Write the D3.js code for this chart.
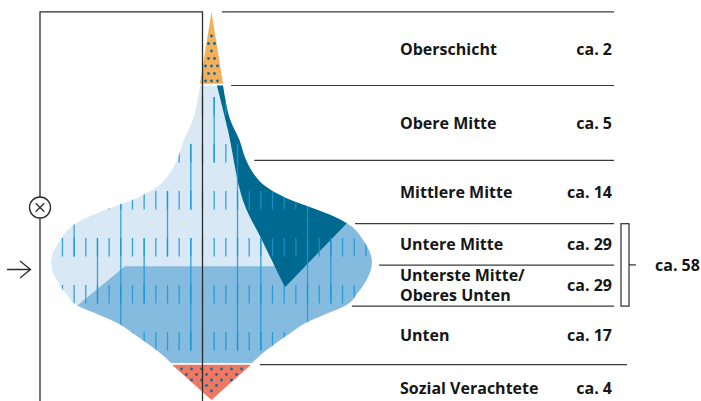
<!DOCTYPE html>
<html>
<head>
<meta charset="utf-8">
<script src="https://cdn.jsdelivr.net/npm/d3@7.9.0/dist/d3.min.js"></script>
<style>
html, body { margin: 0; padding: 0; background: #fff; }
svg { display: block; font-family: 'Open Sans', sans-serif; }
</style>
</head>
<body>
<svg id="chart" width="701" height="401"></svg>
<script>
// classes and approximate share in percent
const classes = ['Oberschicht', 'Obere Mitte', 'Mittlere Mitte', 'Untere Mitte',
  'Unterste Mitte/|Oberes Unten', 'Unten', 'Sozial Verachtete'];
const shares = [2, 5, 14, 29, 29, 17, 4];
// edges of the rows along the figure (depth 0 = neck, 100 = foot)
const bandEdges = [-26.5, 0, 27, 49.8, 64.7, 79.5, 100.6, 113.3];

// outline of the onion: relative width at each depth
const outlineDepth = [0, 5.2, 12.4, 19.6, 26.8, 31.5, 36.6, 40.5, 44.1, 47.0, 50.3, 55.7, 63.7, 70.1, 74.8, 79.1, 82.7, 85.6, 89.2, 93.5, 97.1, 100];
const outlineWidth = [7.2, 8.7, 11.7, 17.4, 21.5, 25.9, 34.3, 46.4, 62.9, 75.7, 86.0, 94.4, 100, 96.6, 91.0, 84.1, 69.8, 58.6, 49.2, 38.6, 30.5, 25.2];

// dark wedge (left edge) and the lower fill corner
const wedgeDepth = [0, 16.2, 41.4, 55.8, 72.7];
const wedgeWidth = [3.4, 10.3, 19.6, 31.5, 45.8];
const wedgeTip = [84.4, 49.6];
const lowerCorner = [[-83.2, 79.1], [-53.9, 65.1]];

// stripes: columns joined over several rows [column, first row, last row]
const longStripes = [[1, 0, 1], [-1, 1, 2], [-1, 3, 5], [3, 1, 5], [5, 3, 5], [9, 2, 5],
  [11, 3, 4], [-7, 2, 5], [-5, 3, 4], [-9, 3, 4], [-11, 2, 3], [-3, 2, 3]];

const svg = d3.select('#chart');
const cx = 211.5;
const yD = d3.scaleLinear().domain([0, 100]).range([85.5, 363]);
const xW = d3.scaleLinear().domain([0, 100]).range([0, 160.5]);
const widthAt = d3.scaleLinear().domain(outlineDepth).range(outlineWidth).clamp(true);
const xCol = d3.scaleLinear().domain([0, 1]).range([202.5, 214.17]);
const pt = (w, d) => [cx + xW(w), yD(d)];

const ink = '#2b2b2b';

// violin outline
const outline = outlineDepth.map((d, i) => ({ d, w: outlineWidth[i] }));
const area = d3.area()
  .y(p => yD(p.d))
  .x0(p => cx - xW(p.w))
  .x1(p => cx + xW(p.w))
  .curve(d3.curveMonotoneY);

svg.append('clipPath').attr('id', 'onion')
  .append('path').attr('d', area(outline));

const g = svg.append('g').attr('clip-path', 'url(#onion)');
g.append('path').attr('d', area(outline)).attr('fill', '#d8e8f5');

// lower (middle blue) part
const lowerPoly = [[-112.5, 93.1], ...lowerCorner, [58.5, 65.1], [103.7, 38.1], [130, 38.1], [130, 110], [-130, 110]];
g.append('path')
  .attr('d', d3.line()(lowerPoly.map(p => pt(p[0], p[1]))) + 'Z')
  .attr('fill', '#86bbe0');

// dark wedge
const wedgeEdge = wedgeDepth.map((d, i) => pt(wedgeWidth[i], d));
const wedgeTail = [pt(wedgeTip[0], wedgeTip[1]), pt(103.7, 38.1), pt(130, 20), pt(130, -5), pt(wedgeWidth[0], -5)];
g.append('path')
  .attr('d', d3.line().curve(d3.curveCatmullRom)(wedgeEdge) + wedgeTail.map(p => 'L' + p.join(',')).join('') + 'Z')
  .attr('fill', '#00698f');

// stripes
const rowTop = j => 97 + j * 47;
const dashLen = 18.5;
const stripes = [];
for (let k = -14; k <= 15; k++) {
  for (let j = 0; j < 6; j++) stripes.push([k, rowTop(j), rowTop(j) + dashLen]);
}
longStripes.forEach(([k, a, b]) => stripes.push([k, rowTop(a), rowTop(b) + dashLen]));
g.selectAll('line.stripe').data(stripes).join('line')
  .attr('class', 'stripe')
  .attr('x1', s => xCol(s[0])).attr('x2', s => xCol(s[0]))
  .attr('y1', s => s[1]).attr('y2', s => s[2])
  .attr('stroke', '#1797d5').attr('stroke-width', 1.3).attr('opacity', 0.85);

// top and bottom triangles with dots
const topTri = [[cx, yD(bandEdges[0])], [cx - xW(widthAt(0)), yD(-0.6)], [cx + xW(widthAt(0)), yD(-0.6)]];
const botTri = [[cx - xW(widthAt(100)) + 1, yD(bandEdges[6])], [cx + xW(widthAt(100)) - 1, yD(bandEdges[6])], [cx, yD(bandEdges[7])]];
svg.append('path').attr('d', d3.line()(topTri) + 'Z').attr('fill', '#f4af5a');
svg.append('path').attr('d', d3.line()(botTri) + 'Z').attr('fill', '#ee7862');

function dotsIn(y0, y1, halfAt, stepY, stepX, inset) {
  const out = [];
  let r = 0;
  for (let y = y0; y <= y1; y += stepY, r++) {
    const lim = halfAt(y) - inset;
    const off = r % 2 ? stepX / 2 : 0;
    for (let x = off - 4 * stepX; x <= 4 * stepX; x += stepX) {
      if (Math.abs(x) <= lim) out.push([cx + x, y]);
    }
  }
  return out;
}
const topHalf = y => xW(widthAt(0)) * (y - topTri[0][1]) / (topTri[1][1] - topTri[0][1]);
const botHalf = y => (xW(widthAt(100)) - 1) * (botTri[2][1] - y) / (botTri[2][1] - botTri[0][1]);
const dots = dotsIn(36, 82, topHalf, 7.5, 6, 2.0).concat(dotsIn(369, 398, botHalf, 5.5, 10, 2.0));
svg.selectAll('circle.dot').data(dots).join('circle')
  .attr('class', 'dot').attr('cx', d => d[0]).attr('cy', d => d[1]).attr('r', 1.4)
  .attr('fill', '#176a95');

// frame: axis, top bar, left line with marker and arrow
svg.append('path')
  .attr('d', `M40,401V${yD(bandEdges[0])}H${xCol(0)}V401`)
  .attr('fill', 'none').attr('stroke', ink).attr('stroke-width', 1.3);
const mark = svg.append('g').attr('transform', 'translate(40,207.5)');
mark.append('circle').attr('r', 10.5).attr('fill', '#fff').attr('stroke', ink).attr('stroke-width', 1.3);
mark.append('path').attr('d', 'M-4.3,-4.3L4.3,4.3M-4.3,4.3L4.3,-4.3').attr('stroke', ink).attr('stroke-width', 1.3);
svg.append('path').attr('d', 'M7,269.5H30.5M20,261L30.5,269.5L20,278')
  .attr('fill', 'none').attr('stroke', ink).attr('stroke-width', 1.3);

// row rules
const ruleEnd = 614;
const rules = bandEdges.slice(0, 7).map((d, i) => {
  let w = 1.5;
  if (d >= 0 && d <= 100) w = widthAt(d);
  if (d > 100) w = widthAt(100);
  return { y: yD(d), x0: cx + xW(w) + 8, x1: i === 6 ? 627 : ruleEnd };
});
svg.selectAll('line.rule').data(rules).join('line')
  .attr('class', 'rule')
  .attr('x1', r => r.x0).attr('x2', r => r.x1)
  .attr('y1', r => r.y).attr('y2', r => r.y)
  .attr('stroke', '#3a3a3a').attr('stroke-width', 1.2);

// labels
const labelX = 400;
const fontSize = '16px';
const rows = classes.map((c, i) => {
  const top = yD(bandEdges[i]);
  const mid = i === 6 ? top + 24 : (top + yD(bandEdges[i + 1])) / 2;
  return { name: c.split('|'), share: shares[i], mid };
});
const lab = svg.selectAll('g.row').data(rows).join('g').attr('class', 'row')
  .style('font-size', fontSize).style('font-weight', 700).attr('fill', '#161616');
lab.append('text')
  .attr('x', labelX)
  .each(function (r) {
    const t = d3.select(this);
    r.name.forEach((line, li) => {
      t.append('tspan').attr('x', labelX)
        .attr('y', r.mid + 5.8 + (li - (r.name.length - 1) / 2) * 20)
        .text(line);
    });
  });
lab.append('text')
  .attr('x', 612).attr('y', r => r.mid + 5.8)
  .attr('text-anchor', 'end')
  .text(r => `ca. ${r.share}`);

// bracket for the two lower middle rows
const bTop = yD(bandEdges[3]), bBot = yD(bandEdges[5]);
svg.append('rect').attr('x', 621).attr('y', bTop).attr('width', 8).attr('height', bBot - bTop)
  .attr('fill', 'none').attr('stroke', ink).attr('stroke-width', 1.2);
svg.append('line').attr('x1', 629).attr('x2', 636)
  .attr('y1', (bTop + bBot) / 2).attr('y2', (bTop + bBot) / 2)
  .attr('stroke', ink).attr('stroke-width', 1.2);
svg.append('text')
  .attr('x', 655).attr('y', (bTop + bBot) / 2 + 5.8)
  .style('font-size', fontSize).style('font-weight', 700).attr('fill', '#161616')
  .text(`ca. ${d3.sum(shares.slice(3, 5))}`);
</script>
</body>
</html>
